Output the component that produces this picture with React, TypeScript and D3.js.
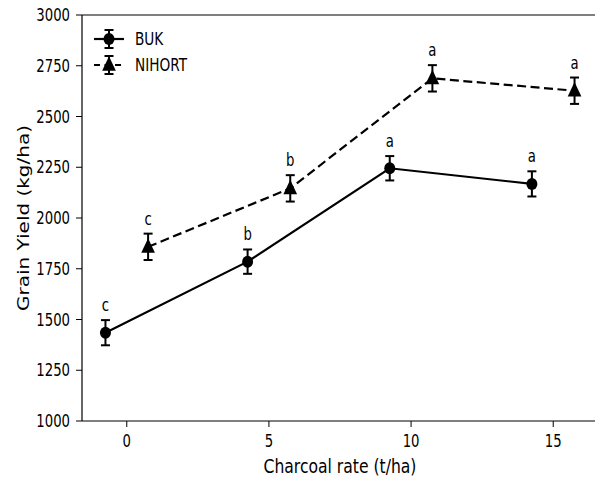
import React from 'react';
import * as d3 from 'd3';

// charcoal rates (t/ha)
const rates = [0, 5, 10, 15];

// grain yield (kg/ha), means and standard errors
const bukYield = [1435, 1785, 2245, 2168];
const bukErr = [62, 60, 60, 62];
const nihortYield = [1858, 2146, 2688, 2627];
const nihortErr = [65, 65, 65, 65];

// letters from mean separation
const bukLetters = ['c', 'b', 'a', 'a'];
const nihortLetters = ['c', 'b', 'a', 'a'];

const yTicks = [1000, 1250, 1500, 1750, 2000, 2250, 2500, 2750, 3000];
const xTicks = [0, 5, 10, 15];

const W = 595;
const H = 479;
const font = '"DejaVu Sans", sans-serif';
const SX = 0.78; // the picture is squeezed sideways

// text drawn at (tx, ty), narrowed like the reference
const Label = ({ tx, ty, size, anchor = 'start', dy, rotate, children }: any) => (
  <text
    transform={`translate(${tx},${ty}) scale(${SX},1)${rotate ? ` rotate(${rotate})` : ''}`}
    textAnchor={anchor}
    fontSize={size}
    dy={dy}
  >
    {children}
  </text>
);

const App = () => {
  const margin = { top: 15, left: 82, bottom: 58 };
  const plotRight = 598;
  const x = d3.scaleLinear().domain([-1.575, 16.575]).range([margin.left, plotRight]);
  const y = d3.scaleLinear().domain([1000, 3000]).range([H - margin.bottom, margin.top]);

  const series = [
    { name: 'BUK', vals: bukYield, err: bukErr, letters: bukLetters, offset: -0.75, dash: null, marker: 'circle' },
    { name: 'NIHORT', vals: nihortYield, err: nihortErr, letters: nihortLetters, offset: 0.75, dash: '9,4.5', marker: 'triangle' },
  ];

  const line = d3.line<[number, number]>().x(d => x(d[0])).y(d => y(d[1]));
  const tri = d3.symbol().type(d3.symbolTriangle).size(100)();

  const marker = (kind: string, cx: number, cy: number, key?: string) =>
    kind === 'circle'
      ? <ellipse key={key} cx={cx} cy={cy} rx={5.5} ry={6} fill="#000" />
      : <path key={key} d={tri || ''} transform={`translate(${cx},${cy + 1}) scale(0.9,1.1)`} fill="#000" />;

  const errBar = (cx: number, top: number, bottom: number, key?: string) => (
    <g key={key} stroke="#000" strokeWidth={2}>
      <line x1={cx} x2={cx} y1={top} y2={bottom} />
      <line x1={cx - 4.5} x2={cx + 4.5} y1={top} y2={top} />
      <line x1={cx - 4.5} x2={cx + 4.5} y1={bottom} y2={bottom} />
    </g>
  );

  const y0 = H - margin.bottom;

  return (
    <div style={{ position: 'absolute', left: 0, top: 0 }}>
      <svg width={W} height={H} style={{ display: 'block', background: '#fff' }} fontFamily={font}>
        {/* spines */}
        <line x1={margin.left} x2={margin.left} y1={margin.top} y2={y0} stroke="#000" strokeWidth={1.2} />
        <line x1={margin.left} x2={plotRight} y1={y0} y2={y0} stroke="#000" strokeWidth={1.2} />
        <line x1={margin.left} x2={plotRight} y1={margin.top} y2={margin.top} stroke="#000" strokeWidth={1.2} />

        {/* y axis */}
        {yTicks.map(t => (
          <g key={t}>
            <line x1={margin.left - 6} x2={margin.left} y1={y(t)} y2={y(t)} stroke="#000" strokeWidth={1} />
            <Label tx={margin.left - 12} ty={y(t)} size={17} anchor="end" dy="0.36em">{t}</Label>
          </g>
        ))}
        {/* x axis */}
        {xTicks.map(t => (
          <g key={t}>
            <line x1={x(t)} x2={x(t)} y1={y0} y2={y0 + 6} stroke="#000" strokeWidth={1} />
            <Label tx={x(t)} ty={y0 + 26} size={17} anchor="middle">{t}</Label>
          </g>
        ))}

        <Label tx={(margin.left + plotRight) / 2} ty={473} size={20} anchor="middle">Charcoal rate (t/ha)</Label>
        <Label tx={29} ty={(margin.top + y0) / 2} size={20} anchor="middle" rotate={-90}>Grain Yield (kg/ha)</Label>

        {series.map(s => {
          const pts = rates.map((r, i) => [r + s.offset, s.vals[i]] as [number, number]);
          return (
            <g key={s.name}>
              <path d={line(pts) || ''} fill="none" stroke="#000" strokeWidth={2.2} strokeDasharray={s.dash || undefined} />
              {pts.map((p, i) => errBar(x(p[0]), y(p[1] + s.err[i]), y(p[1] - s.err[i]), 'e' + i))}
              {pts.map((p, i) => marker(s.marker, x(p[0]), y(p[1]), 'm' + i))}
              {pts.map((p, i) => (
                <Label key={'l' + i} tx={x(p[0])} ty={y(p[1] + s.err[i]) - 9} size={17} anchor="middle">{s.letters[i]}</Label>
              ))}
            </g>
          );
        })}

        {/* legend */}
        {series.map((s, i) => {
          const ly = 39 + i * 26;
          return (
            <g key={s.name}>
              <line x1={94} x2={124} y1={ly} y2={ly} stroke="#000" strokeWidth={2.2} strokeDasharray={s.dash ? '6,4.5' : undefined} />
              {errBar(109, ly - 9, ly + 9)}
              {marker(s.marker, 109, ly)}
              <Label tx={135} ty={ly} size={17.5} dy="0.36em">{s.name}</Label>
            </g>
          );
        })}
      </svg>
    </div>
  );
};

export default App;
